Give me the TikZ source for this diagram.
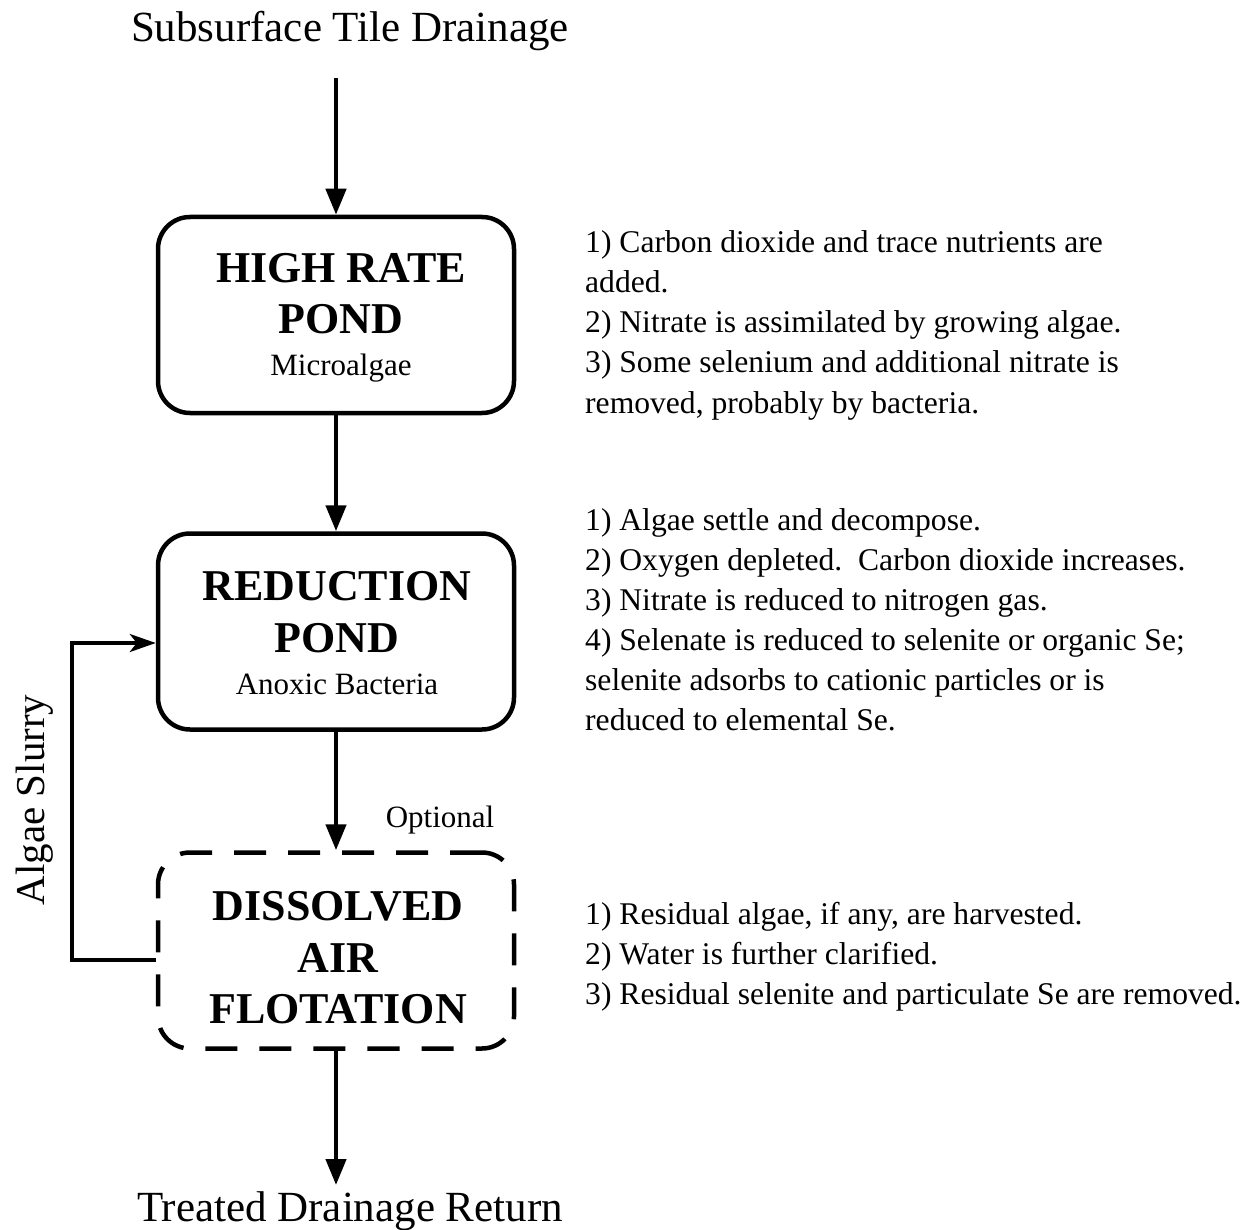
\documentclass[tikz,border=0pt]{standalone}
\usepackage{fontspec}
\setmainfont{Liberation Serif}
\usetikzlibrary{arrows.meta}
\tikzset{
  pondbox/.style={draw, line width=4.5pt, rounded corners=32pt, minimum width=356pt, minimum height=196pt, inner sep=0pt},
  dashbox/.style={pondbox, dash pattern=on 32pt off 22pt},
  flow/.style={line width=4.5pt, -{Triangle[length=26pt,width=20pt]}},
  fb/.style={line width=3.5pt, -{Stealth[length=26pt,width=18pt,inset=7pt]}},
  bigtitle/.style={font=\fontsize{43}{43}\selectfont, anchor=base, inner sep=0pt},
  boxhead/.style={font=\fontsize{44}{44}\selectfont\bfseries, anchor=base, inner sep=0pt},
  boxsub/.style={font=\fontsize{31}{31}\selectfont, anchor=base, inner sep=0pt},
  note/.style={font=\fontsize{31.6}{31.6}\selectfont, anchor=base west, inner sep=0pt}
}
\begin{document}
\begin{tikzpicture}[x=1pt,y=-1pt]
\useasboundingbox (0,0) rectangle (1258,1230);
% titles
\node[bigtitle] (src) at (350,42) {Subsurface Tile Drainage};
\node[bigtitle] (out) at (350,1221) {Treated Drainage Return};
\coordinate (srcend) at (336,78);
\coordinate (outend) at (336,1185);
% boxes
\node[pondbox] (hrp) at (336,315) {};
\node[pondbox] (rp) at (336,631.5) {};
\node[dashbox] (daf) at (336,950.5) {};
% box texts
\node[boxhead] (hrp1) at (341,283) {HIGH RATE};
\node[boxhead] (hrp2) at (341,334) {POND};
\node[boxsub] (hrp3) at (341,376) {Microalgae};
\node[boxhead] (rp1) at (337,600) {REDUCTION};
\node[boxhead] (rp2) at (337,652) {POND};
\node[boxsub] (rp3) at (337,694) {Anoxic Bacteria};
\node[boxhead] (daf1) at (338,920) {DISSOLVED};
\node[boxhead] (daf2) at (338,972) {AIR};
\node[boxhead] (daf3) at (338,1023) {FLOTATION};
\node[boxsub] (opt) at (440,827) {Optional};
\node[boxsub, font=\fontsize{41}{41}\selectfont, rotate=90] (slurry) at (44,800) {Algae Slurry};
% arrows
\draw[flow] (srcend) -- (hrp.north);
\draw[flow] (hrp.south) -- (rp.north);
\draw[flow] (rp.south) -- (daf.north);
\draw[flow] (daf.south) -- (outend);
\draw[fb] ([yshift=-9.5pt]daf.west) -- ++(-84,0) |- ([yshift=-11.5pt]rp.west);
% notes
\node[note] (a1) at (585,253) {1) Carbon dioxide and trace nutrients are};
\node[note] (a2) at (585,293) {added.};
\node[note] (a3) at (585,333) {2) Nitrate is assimilated by growing algae.};
\node[note] (a4) at (585,373) {3) Some selenium and additional nitrate is};
\node[note] (a5) at (585,413) {removed, probably by bacteria.};
\node[note] (b1) at (585,530) {1) Algae settle and decompose.};
\node[note] (b2) at (585,570) {2) Oxygen depleted.\ \ Carbon dioxide increases.};
\node[note] (b3) at (585,610) {3) Nitrate is reduced to nitrogen gas.};
\node[note] (b4) at (585,650) {4) Selenate is reduced to selenite or organic Se;};
\node[note] (b5) at (585,690) {selenite adsorbs to cationic particles or is};
\node[note] (b6) at (585,730) {reduced to elemental Se.};
\node[note] (c1) at (585,924) {1) Residual algae, if any, are harvested.};
\node[note] (c2) at (585,964) {2) Water is further clarified.};
\node[note] (c3) at (585,1004) {3) Residual selenite and particulate Se are removed.};
\end{tikzpicture}
\end{document}
